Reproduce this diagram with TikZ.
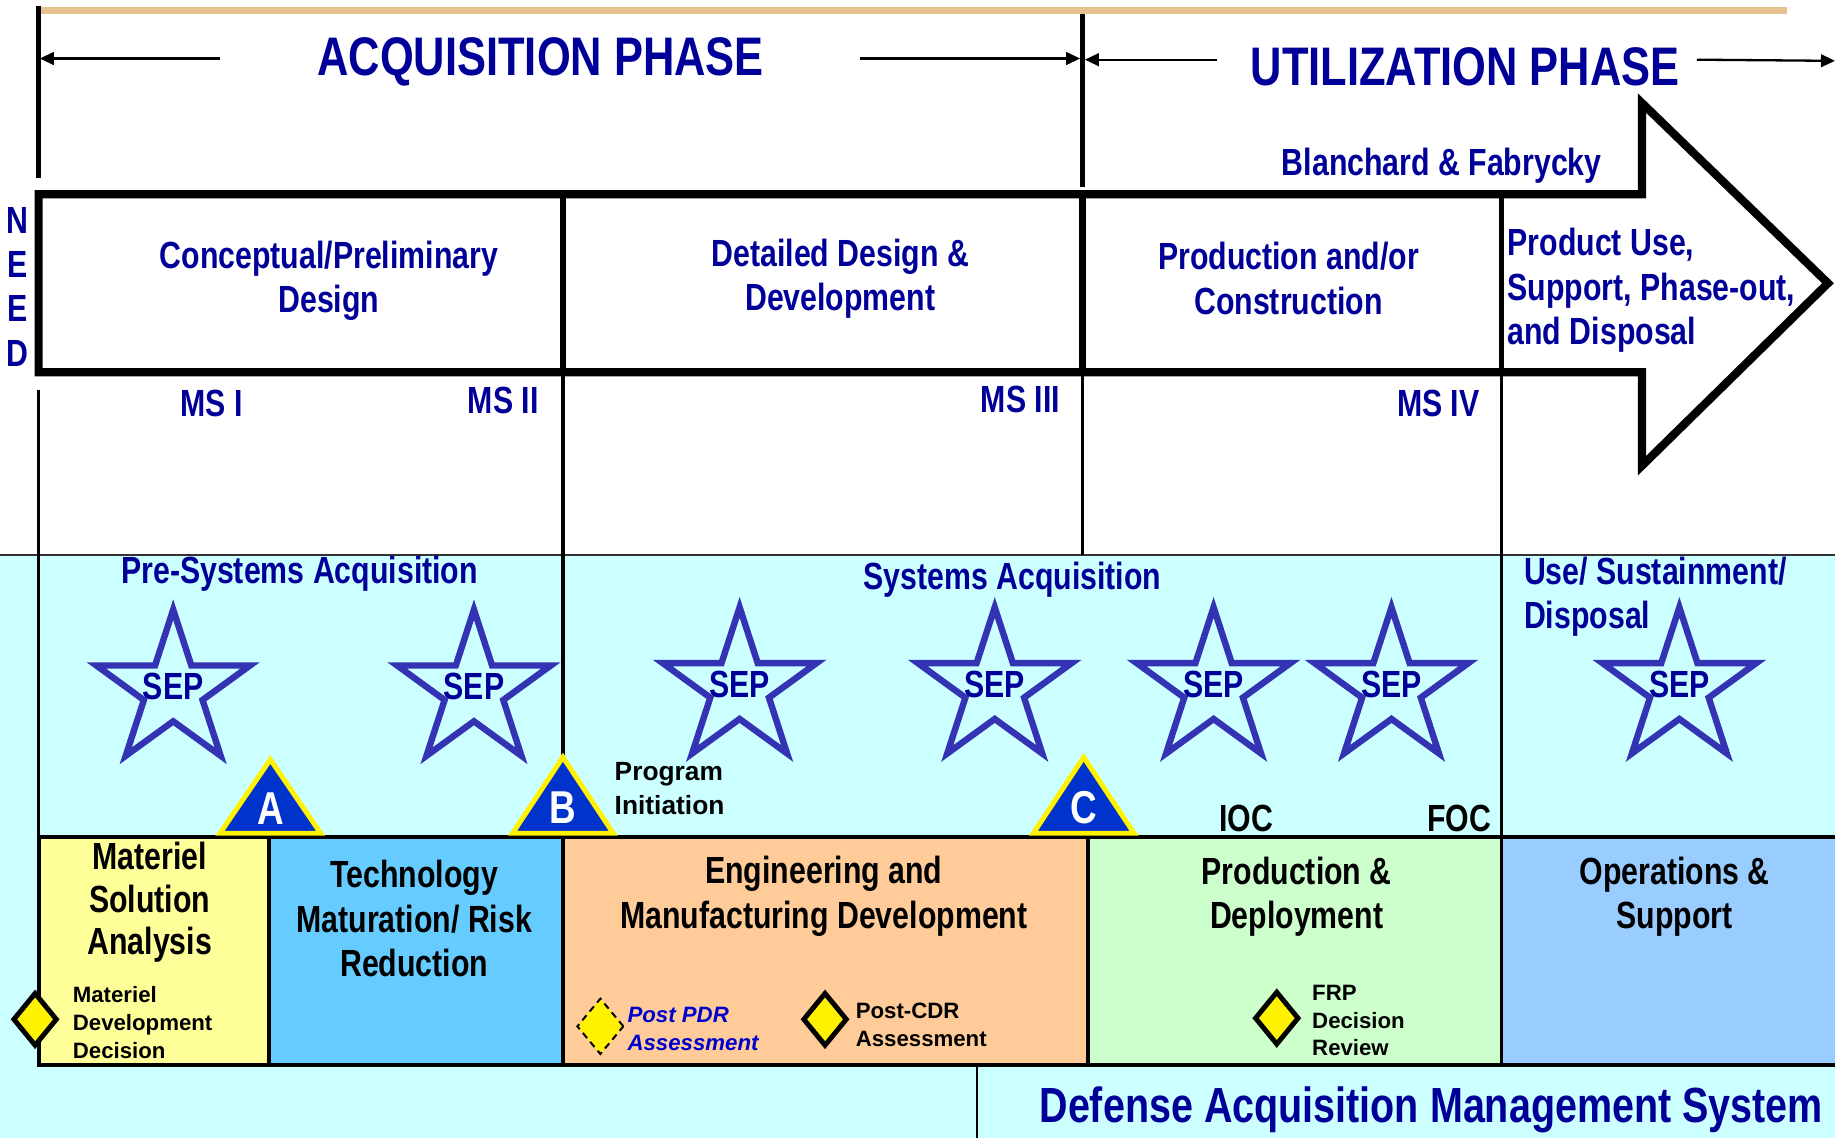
\documentclass[tikz,border=0pt]{standalone}
\usepackage{fontspec}
\setmainfont[FakeStretch=0.8]{Liberation Sans}
\newfontfamily\widesans{Liberation Sans}
\usetikzlibrary{shapes.geometric, arrows.meta}

\definecolor{titleblue}{RGB}{0,0,153}
\definecolor{sepblue}{RGB}{51,51,179}
\definecolor{gateblue}{RGB}{0,51,204}
\definecolor{pdrblue}{RGB}{0,0,204}
\definecolor{tanline}{RGB}{229,193,144}
\definecolor{skycyan}{RGB}{204,255,255}
\definecolor{msayellow}{RGB}{255,255,153}
\definecolor{tmrblue}{RGB}{102,204,255}
\definecolor{emdorange}{RGB}{255,204,153}
\definecolor{pdgreen}{RGB}{204,255,204}
\definecolor{osblue}{RGB}{153,204,255}

\tikzstyle{bluetext} = [text=titleblue, font=\bfseries\fontsize{23}{27}\selectfont, align=center, inner sep=0pt]
\tikzstyle{blacktext} = [text=black, font=\bfseries\fontsize{23}{27}\selectfont, align=center, inner sep=0pt]
\tikzstyle{phasetitle} = [text=titleblue, font=\bfseries\fontsize{33}{36}\selectfont, inner sep=0pt]
\tikzstyle{smalltext} = [text=black, font=\widesans\bfseries\fontsize{13.5}{17}\selectfont, align=left, anchor=west, inner sep=0pt]
\tikzstyle{sepstar} = [star, star points=5, star point ratio=2.618, minimum size=3.45cm, inner sep=0pt, draw=sepblue, line width=3.9pt, line join=miter]
\tikzstyle{septext} = [text=titleblue, font=\bfseries\fontsize{23}{27}\selectfont, inner sep=0pt]
\tikzstyle{gate} = [fill=gateblue, draw=yellow, line width=3pt, line join=miter]
\tikzstyle{gateletter} = [text=white, font=\bfseries\fontsize{28}{30}\selectfont, inner sep=0pt]
\tikzstyle{decision} = [diamond, minimum width=0.95cm, minimum height=1.15cm, inner sep=0pt, fill=yellow, draw=black, line width=3pt]
\tikzstyle{phasebox} = [draw=black, line width=2.4pt]
\tikzstyle{phasearrow} = [-{Triangle[length=0.3cm, width=0.27cm]}, line width=1.4pt]

\begin{document}
\begin{tikzpicture}[x=0.025cm, y=-0.025cm]
\useasboundingbox (0,0) rectangle (1568,972);

% phase band at the top
\draw[tanline, line width=4pt] (35,9) -- (1527,9);
\draw[line width=3pt] (33,5) -- (33,152);
\draw[line width=3pt] (925,12) -- (925,160);
\node (acq) [phasetitle] at (462,53) {ACQUISITION PHASE};
\node (util) [phasetitle] at (1252,57) {UTILIZATION PHASE};
\coordinate (acqL) at (34,50);
\coordinate (acqLs) at (188,50);
\coordinate (acqR) at (923,50);
\coordinate (acqRs) at (735,50);
\coordinate (utilL) at (927,51);
\coordinate (utilLs) at (1040,51);
\coordinate (utilR) at (1568,52);
\coordinate (utilRs) at (1450,51);
\draw[phasearrow] (acqLs) -- (acqL);
\draw[phasearrow] (acqRs) -- (acqR);
\draw[phasearrow] (utilLs) -- (utilL);
\draw[phasearrow] (utilRs) -- (utilR);

% DoD band
\fill[skycyan] (0,474) rectangle (1568,972);
\draw[line width=1pt, black!80] (0,474) -- (1568,474);
\draw[line width=2pt] (33,333) -- (33,715);
\draw[line width=2pt] (481,318) -- (481,715);
\draw[line width=2pt] (925,318) -- (925,474);
\draw[line width=2pt] (1283,318) -- (1283,715);

% life cycle arrow
\draw[line width=5pt, line join=miter] (33,166) -- (1403,166) -- (1403,88) -- (1562,242)
  -- (1403,398) -- (1403,318) -- (33,318) -- cycle;
\draw[line width=4pt] (481,166) -- (481,318);
\draw[line width=4pt] (925,166) -- (925,318);
\draw[line width=3pt] (1283,166) -- (1283,318);

\node (need) [bluetext] at (15,245) {N\\E\\E\\D};
\node (bf) [bluetext] at (1232,142) {Blanchard \& Fabrycky};
\node (cpd) [bluetext] at (281,240) {Conceptual/Preliminary\\Design};
\node (ddd) [bluetext] at (718,238) {Detailed Design \&\\Development};
\node (pac) [bluetext] at (1101,238) {Production and/or\\Construction};
\node (pus) [bluetext, align=left, anchor=west] at (1288,248) {Product Use,\\Support, Phase-out,\\and Disposal};
\node (ms1) [bluetext] at (181,345) {MS I};
\node (ms2) [bluetext] at (430,342) {MS II};
\node (ms3) [bluetext] at (872,341) {MS III};
\node (ms4) [bluetext] at (1229,345) {MS IV};

\node (presys) [bluetext] at (256,490) {Pre-Systems Acquisition};
\node (sys) [bluetext] at (865,495) {Systems Acquisition};
\node (usd) [bluetext, align=left, anchor=west] at (1302,510) {Use/ Sustainment/\\Disposal};

% SEP stars
\foreach \x/\y [count=\i] in {148/590, 405/590, 632/588, 850/588, 1037/588, 1189/588, 1435/588} {
  \node (star\i) [sepstar] at (\x,\y) {};
  \node (sep\i) [septext] at (\x,\y-3) {SEP};
}

% acquisition phases
\draw[phasebox, fill=msayellow] (33,715) rectangle (230,910);
\draw[phasebox, fill=tmrblue] (230,715) rectangle (481,910);
\draw[phasebox, fill=emdorange] (481,715) rectangle (930,910);
\draw[phasebox, fill=pdgreen] (930,715) rectangle (1283,910);
\draw[phasebox, fill=osblue] (1283,715) rectangle (1580,910);
\draw[line width=1pt] (835,910) -- (835,972);

\node (msa) [blacktext, font=\bfseries\fontsize{23}{25.6}\selectfont] at (128,771) {Materiel\\Solution\\Analysis};
\node (tmrr) [blacktext] at (354,785) {Technology\\Maturation/ Risk\\Reduction};
\node (emd) [blacktext] at (704,766) {Engineering and\\Manufacturing Development};
\node (pd) [blacktext] at (1108,766) {Production \&\\Deployment};
\node (os) [blacktext] at (1431,766) {Operations \&\\Support};

% milestones
\draw[gate] (231,649) -- (274,712) -- (188,712) -- cycle;
\draw[gate] (481,647) -- (524,712) -- (438,712) -- cycle;
\draw[gate] (926,647) -- (969,712) -- (883,712) -- cycle;
\node (msA) [gateletter] at (231,691) {A};
\node (msB) [gateletter] at (481,690) {B};
\node (msC) [gateletter] at (926,690) {C};
\node (pi) [smalltext, font=\widesans\bfseries\fontsize{16}{21}\selectfont] at (525,674) {Program\\Initiation};
\node (ioc) [blacktext] at (1065,699) {IOC};
\node (foc) [blacktext] at (1247,699) {FOC};

% decision points
\node (mdd) [decision] at (30,871) {};
\node (pdr) [decision, minimum width=1cm, minimum height=1.2cm, line width=1.2pt, dash pattern=on 4pt off 3pt] at (513,877) {};
\node (cdr) [decision] at (705,871) {};
\node (frp) [decision] at (1091,870) {};
\node (mddtext) [smalltext] at (62,874) {Materiel\\Development\\Decision};
\node (pdrtext) [smalltext, text=pdrblue, font=\widesans\bfseries\itshape\fontsize{13.5}{17}\selectfont] at (536,879) {Post PDR\\Assessment};
\node (cdrtext) [smalltext] at (731,876) {Post-CDR\\Assessment};
\node (frptext) [smalltext] at (1121,872) {FRP\\Decision\\Review};

\node (dams) [phasetitle, font=\bfseries\fontsize{30}{32}\selectfont] at (1223,948) {Defense Acquisition Management System};
\end{tikzpicture}
\end{document}
